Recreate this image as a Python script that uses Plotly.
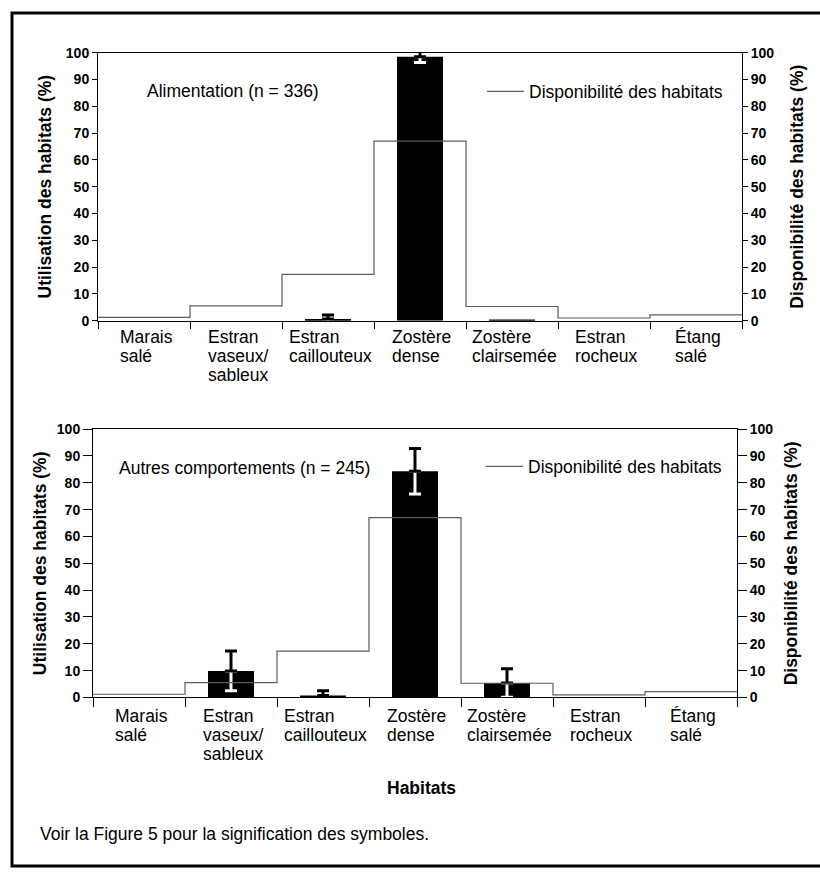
import plotly.graph_objects as go

W, H = 820, 876
FONT = "Liberation Sans, Arial, sans-serif"

# Habitat categories (one entry per line of the label)
habitats = [
    ["Marais", "salé"],
    ["Estran", "vaseux/", "sableux"],
    ["Estran", "caillouteux"],
    ["Zostère", "dense"],
    ["Zostère", "clairsemée"],
    ["Estran", "rocheux"],
    ["Étang", "salé"],
]

# Habitat availability (%), right axis, same for both panels
availability = [1.2, 5.5, 17.3, 67.0, 5.3, 1.0, 2.2]

# Habitat use (%) while feeding, with error
feeding_use = [0.0, 0.0, 0.6, 98.5, 0.4, 0.0, 0.0]
feeding_err = [None, None, 1.5, 2.2, None, None, None]

# Habitat use (%) for other behaviours, with error
other_use = [0.0, 9.9, 0.7, 84.3, 5.4, 0.0, 0.0]
other_err = [None, 7.4, 1.8, 8.5, 5.3, None, None]

y_ticks = list(range(0, 101, 10))

panels = [
    dict(use=feeding_use, err=feeding_err, label="Alimentation (n = 336)",
         left=98, right=742, top=45.5, bottom=318.5, ticklen=5, xticklen=7,
         lab_x=145, lab_y=85, leg_x=482, leg_y=85, first_line=22, line_gap=19.2,
         ytitle_standoff=9, y2title_standoff=17),
    dict(use=other_use, err=other_err, label="Autres comportements (n = 245)",
         left=93, right=737, top=429, bottom=702.3, ticklen=9, xticklen=9,
         lab_x=117, lab_y=469, leg_x=481, leg_y=467, first_line=25, line_gap=18.8,
         ytitle_standoff=5, y2title_standoff=12),
]

# Arial advance widths (1/1000 em) for laying out left-aligned label blocks
ARIAL_W = {
    "a": 556, "b": 556, "c": 500, "d": 556, "e": 556, "é": 556, "è": 556, "f": 278,
    "g": 556, "h": 556, "i": 222, "l": 222, "m": 833, "n": 556, "o": 556, "p": 556,
    "r": 333, "s": 500, "t": 278, "u": 556, "v": 500, "x": 500, "y": 500,
    "E": 667, "É": 667, "M": 833, "Z": 611, "/": 278, " ": 278,
}


def text_width(s, size):
    return sum(ARIAL_W.get(ch, 556) for ch in s) * size / 1000.0


def px(x):
    return x / W


def py(y):
    return 1 - y / H


n = len(habitats)
centers = [i + 0.5 for i in range(n)]
edges = list(range(n + 1))
step_y = availability + [availability[-1]]

fig = go.Figure()
annotations = []
layout = {}

LABEL_SIZE = 17.5

for k, p in enumerate(panels):
    xa = "x" if k == 0 else "x2"
    ya = "y" if k == 0 else "y3"
    ya2 = "y2" if k == 0 else "y4"
    legend_name = "legend" if k == 0 else "legend2"

    fig.add_trace(go.Bar(
        x=centers, y=p["use"], width=0.5, marker=dict(color="black", line=dict(width=0)),
        xaxis=xa, yaxis=ya, showlegend=False, hoverinfo="y",
    ))
    fig.add_trace(go.Scatter(
        x=edges, y=step_y, mode="lines", line=dict(shape="hv", color="#5c5c5c", width=1.2),
        xaxis=xa, yaxis=ya2, name="Disponibilité des habitats", legend=legend_name,
        showlegend=True, hoverinfo="y",
    ))

    err_y = [v if e is not None else None for v, e in zip(p["use"], p["err"])]
    err_vals = [e if e is not None else 0 for e in p["err"]]
    zeros = [0] * n
    # lower half of the error bar, white inside the black bar
    fig.add_trace(go.Scatter(
        x=centers, y=err_y, mode="markers", marker=dict(size=1, color="rgba(0,0,0,0)"),
        error_y=dict(type="data", symmetric=False, array=zeros, arrayminus=err_vals,
                     color="white", thickness=3, width=6),
        xaxis=xa, yaxis=ya, showlegend=False, cliponaxis=False, hoverinfo="skip",
    ))
    # upper half of the error bar, black above the bar
    fig.add_trace(go.Scatter(
        x=centers, y=err_y, mode="markers", marker=dict(size=1, color="rgba(0,0,0,0)"),
        error_y=dict(type="data", symmetric=False, array=err_vals, arrayminus=zeros,
                     color="black", thickness=3, width=6),
        xaxis=xa, yaxis=ya, showlegend=False, cliponaxis=False, hoverinfo="skip",
    ))

    xdom = [px(p["left"]), px(p["right"])]
    ydom = [py(p["bottom"]), py(p["top"])]
    axis_common = dict(showgrid=False, zeroline=False, showline=True, linecolor="black",
                       linewidth=1, tickcolor="black", tickwidth=1)
    xkey = "xaxis" if k == 0 else "xaxis2"
    ykey = "yaxis" if k == 0 else "yaxis3"
    y2key = "yaxis2" if k == 0 else "yaxis4"
    layout[xkey] = dict(domain=xdom, range=[0, n], tickmode="array", tickvals=edges,
                        ticks="outside", ticklen=p["xticklen"], showticklabels=False,
                        mirror=True, anchor=ya, fixedrange=True, **axis_common)
    tick_font = dict(family=FONT, size=14, color="black", weight="bold")
    title_font = dict(family=FONT, size=17.5, color="black", weight="bold")
    layout[ykey] = dict(domain=ydom, range=[0, 100], tickmode="array", tickvals=y_ticks,
                        ticks="outside", ticklen=p["ticklen"], tickfont=tick_font,
                        anchor=xa, fixedrange=True,
                        title=dict(text="Utilisation des habitats (%)", font=title_font,
                                   standoff=p["ytitle_standoff"]),
                        **axis_common)
    layout[y2key] = dict(domain=ydom, range=[0, 100], tickmode="array", tickvals=y_ticks,
                         ticks="outside", ticklen=p["ticklen"], tickfont=tick_font,
                         overlaying=ya, side="right", anchor=xa, fixedrange=True,
                         title=dict(text="Disponibilité des habitats (%)", font=title_font,
                                    standoff=p["y2title_standoff"]),
                         **axis_common)
    layout[legend_name] = dict(x=px(p["leg_x"]), y=py(p["leg_y"]), xanchor="left",
                               yanchor="middle", bgcolor="rgba(0,0,0,0)", borderwidth=0,
                               itemwidth=37, font=dict(family=FONT, size=LABEL_SIZE, color="black"))

    # panel label
    annotations.append(dict(text=p["label"], x=px(p["lab_x"]), y=py(p["lab_y"]),
                            xref="paper", yref="paper", xanchor="left", yanchor="middle",
                            showarrow=False, font=dict(family=FONT, size=LABEL_SIZE, color="black")))

    # habitat names under each category, lines left-aligned within a centred block
    for i, lines in enumerate(habitats):
        block_w = max(text_width(s, LABEL_SIZE) for s in lines)
        for j, s in enumerate(lines):
            annotations.append(dict(
                text=s, x=centers[i], xref=xa, y=0, yref=f"{ya} domain",
                xanchor="left", yanchor="middle", xshift=-block_w / 2,
                yshift=-(p["first_line"] - 6 + j * p["line_gap"]),
                showarrow=False, font=dict(family=FONT, size=LABEL_SIZE, color="black"),
            ))

annotations.append(dict(text="<b>Habitats</b>", x=px(421), y=py(795), xref="paper", yref="paper",
                        xanchor="center", yanchor="middle", showarrow=False,
                        font=dict(family=FONT, size=17.5, color="black")))
annotations.append(dict(text="Voir la Figure 5 pour la signification des symboles.",
                        x=px(38), y=py(841), xref="paper", yref="paper",
                        xanchor="left", yanchor="middle", showarrow=False,
                        font=dict(family=FONT, size=17.5, color="black")))

shapes = [dict(type="rect", xref="paper", yref="paper", x0=px(12), x1=px(826),
               y0=py(874), y1=py(5), line=dict(color="black", width=3))]

fig.update_layout(
    width=W, height=H, margin=dict(l=0, r=0, t=0, b=0),
    paper_bgcolor="white", plot_bgcolor="white",
    font=dict(family=FONT, color="black"),
    annotations=annotations, shapes=shapes, barmode="overlay",
    **layout,
)

fig.write_html("out.html")
